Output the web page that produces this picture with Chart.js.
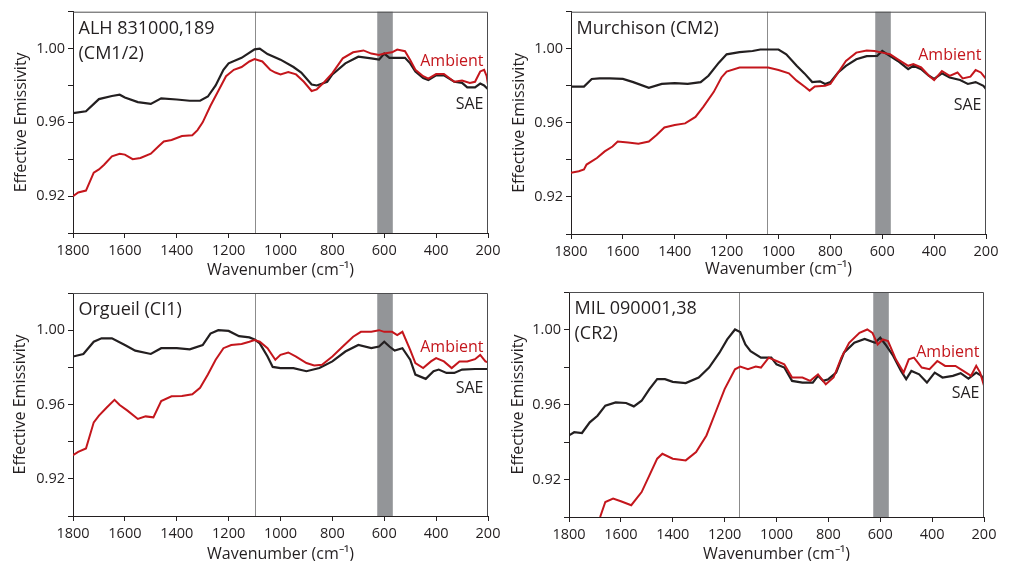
<!DOCTYPE html>
<html>
<head>
<meta charset="utf-8">
<script src="https://cdn.jsdelivr.net/npm/chart.js"></script>
<style>
  body { margin: 0; background: #fff; }
  #wrap { position: relative; width: 1013px; height: 561px; overflow: hidden; }
  canvas { position: absolute; }
</style>
</head>
<body>
<div id="wrap">
  <canvas id="c1" width="506" height="280" style="left:0;top:0"></canvas>
  <canvas id="c2" width="506" height="280" style="left:500px;top:0"></canvas>
  <canvas id="c3" width="506" height="281" style="left:0;top:280px"></canvas>
  <canvas id="c4" width="506" height="281" style="left:500px;top:280px"></canvas>
</div>
<script>
// Axis ticks
const xTicks = [1800, 1600, 1400, 1200, 1000, 800, 600, 400, 200];
const yLabelled = [0.92, 0.96, 1.00];

// Marked wavenumbers: thin line per panel, grey band shared
const refLineWn = [1100, 1045, 1100, 1145];
const bandWn = [567, 627];

const panelTitles = [['ALH 831000,189', '(CM1/2)'], ['Murchison (CM2)'], ['Orgueil (CI1)'], ['MIL 090001,38', '(CR2)']];

// ALH 831000,189
const alhSaeWn = [1800,1750,1700,1650,1620,1600,1550,1500,1460,1400,1350,1310,1280,1250,1220,1200,1150,1100,1080,1050,1000,950,920,880,860,820,800,750,700,650,620,600,580,520,500,480,450,430,400,370,330,300,280,250,230,215,200];
const alhSae = [0.965,0.966,0.9726,0.9743,0.975,0.9735,0.971,0.970,0.973,0.9724,0.9717,0.9717,0.974,0.980,0.9885,0.992,0.995,0.9996,1.000,0.997,0.994,0.990,0.987,0.9805,0.980,0.982,0.986,0.992,0.9956,0.9947,0.994,0.9973,0.995,0.995,0.992,0.9876,0.984,0.983,0.9855,0.9855,0.982,0.9814,0.979,0.979,0.981,0.980,0.978];
const alhAmbWn = [1800,1780,1750,1720,1700,1680,1650,1620,1600,1570,1540,1500,1470,1450,1420,1380,1340,1320,1300,1270,1240,1210,1180,1150,1120,1100,1070,1040,1020,1000,970,940,910,880,860,830,800,760,720,680,650,620,600,570,550,520,500,480,450,430,400,370,330,300,270,250,230,215,205,200];
const alhAmb = [0.920,0.922,0.923,0.9327,0.9345,0.937,0.9416,0.943,0.9425,0.940,0.9407,0.943,0.947,0.9496,0.9504,0.9526,0.953,0.9558,0.960,0.969,0.977,0.985,0.9885,0.990,0.993,0.9943,0.993,0.9885,0.987,0.986,0.9873,0.986,0.982,0.977,0.9779,0.982,0.9867,0.9947,0.998,0.999,0.9973,0.9965,0.9973,0.998,0.9995,0.9986,0.9938,0.9885,0.985,0.9837,0.9862,0.9862,0.982,0.9827,0.9814,0.982,0.9876,0.9885,0.985,0.9805];

// Murchison
const murSaeWn = [1800,1750,1720,1690,1650,1600,1560,1500,1450,1400,1350,1300,1270,1230,1200,1150,1100,1070,1000,970,930,900,870,840,820,800,770,740,700,660,620,600,580,540,500,480,450,420,400,370,340,300,270,240,210,200];
const murSae = [0.9796,0.9796,0.9837,0.984,0.984,0.9837,0.982,0.9789,0.981,0.9814,0.981,0.982,0.9854,0.9925,0.997,0.9982,0.9988,0.9996,0.9996,0.997,0.9908,0.9867,0.982,0.9824,0.981,0.982,0.9872,0.9908,0.9943,0.996,0.9961,0.9988,0.997,0.9934,0.989,0.9908,0.989,0.9854,0.9837,0.9867,0.9845,0.9831,0.981,0.982,0.980,0.9783];
const murAmbWn = [1800,1770,1750,1740,1700,1670,1640,1620,1580,1540,1500,1470,1440,1400,1360,1320,1290,1250,1220,1200,1150,1100,1040,1000,960,930,900,880,860,820,800,770,740,700,660,630,600,570,540,500,480,450,420,400,370,340,310,290,260,240,220,200];
const murAmb = [0.933,0.9339,0.9348,0.9375,0.941,0.9446,0.9472,0.9499,0.9494,0.9487,0.9499,0.9535,0.9575,0.9588,0.9597,0.9632,0.9686,0.9766,0.9845,0.9877,0.9899,0.9899,0.9899,0.9885,0.9867,0.9828,0.9796,0.9774,0.9796,0.980,0.981,0.9872,0.9934,0.9979,0.9991,0.9988,0.9979,0.997,0.9943,0.9908,0.9917,0.9899,0.9854,0.9831,0.988,0.9854,0.9872,0.984,0.9849,0.9885,0.9872,0.9837];

// Orgueil
const orgSaeWn = [1800,1760,1720,1690,1650,1600,1560,1500,1460,1400,1350,1300,1270,1240,1200,1160,1120,1100,1080,1050,1030,1000,950,900,850,800,750,700,650,620,600,580,560,530,500,480,440,410,390,360,330,300,250,200];
const orgSae = [0.9858,0.9872,0.9938,0.9956,0.9956,0.992,0.989,0.9872,0.9903,0.9903,0.9897,0.992,0.9982,1.000,0.9996,0.9968,0.9961,0.995,0.9929,0.9858,0.9802,0.9796,0.9796,0.9779,0.9796,0.9832,0.9885,0.992,0.9903,0.9912,0.9938,0.9912,0.989,0.9903,0.9841,0.9761,0.9738,0.9779,0.9788,0.977,0.977,0.9788,0.9791,0.9791];
const orgAmbWn = [1800,1780,1750,1720,1700,1670,1640,1620,1590,1550,1520,1490,1460,1420,1380,1340,1310,1280,1250,1220,1190,1150,1120,1100,1080,1050,1020,1000,970,940,900,870,840,800,760,720,690,650,620,600,570,550,530,500,480,450,420,400,370,340,310,280,250,230,210,200];
const orgAmb = [0.9327,0.9345,0.9363,0.9504,0.954,0.9584,0.9625,0.9597,0.9567,0.9522,0.9536,0.9531,0.9619,0.9644,0.9646,0.9655,0.969,0.9761,0.9841,0.9903,0.992,0.9926,0.9938,0.9947,0.9938,0.9903,0.9841,0.9867,0.988,0.9858,0.9823,0.981,0.9814,0.9858,0.9912,0.9965,0.9991,0.9991,1.000,0.9991,0.9991,0.9973,0.9991,0.9894,0.9823,0.9796,0.9832,0.985,0.9832,0.9796,0.9832,0.9832,0.9844,0.9867,0.9832,0.9827];

// MIL 090001,38
const milSaeWn = [1800,1780,1750,1720,1690,1660,1620,1580,1550,1520,1490,1460,1430,1400,1350,1300,1260,1220,1190,1160,1140,1120,1100,1060,1020,1000,970,940,900,860,840,820,800,770,740,700,660,620,600,580,550,520,500,480,450,420,390,360,320,290,260,230,210,200];
const milSae = [0.9435,0.9452,0.9448,0.9505,0.954,0.9594,0.9611,0.9608,0.959,0.962,0.9682,0.9735,0.9735,0.9721,0.9714,0.9744,0.9797,0.9876,0.9947,1.000,0.9986,0.992,0.9885,0.985,0.985,0.9814,0.9797,0.9726,0.9717,0.9717,0.9753,0.9726,0.9735,0.977,0.9876,0.9929,0.995,0.9929,0.9956,0.992,0.9859,0.9779,0.9735,0.9779,0.9761,0.9717,0.977,0.9744,0.9753,0.9767,0.9738,0.977,0.9753,0.9726];
const milAmbWn = [1680,1660,1630,1600,1560,1520,1490,1460,1440,1400,1350,1310,1270,1230,1200,1160,1140,1110,1080,1060,1030,1000,970,940,900,870,840,810,780,750,720,680,650,630,610,590,570,540,510,490,470,440,410,380,350,310,280,250,230,215,200];
const milAmb = [0.900,0.908,0.9098,0.9084,0.9063,0.9133,0.9222,0.9311,0.9337,0.9311,0.9302,0.9346,0.9435,0.9576,0.9682,0.9788,0.9802,0.9788,0.9802,0.9797,0.985,0.9832,0.9814,0.9744,0.9744,0.9726,0.9761,0.9708,0.9744,0.985,0.9929,0.9982,1.000,0.9982,0.992,0.9947,0.9938,0.9841,0.977,0.9841,0.985,0.9797,0.9788,0.9832,0.9806,0.9806,0.9779,0.9753,0.9806,0.977,0.970];

const RED = '#c4161c';
const BLACK = '#231f20';
const FONT = "'Open Sans', sans-serif";

// canvas layout: chart area [left, top, right, bottom], label baselines from area top
const layouts = [
  { id: 'c1', w: 506, h: 280, area: [73, 9, 488, 233], yTitle: 21.5, xTitle: 270, amb: 54, sae: 97 },
  { id: 'c2', w: 506, h: 280, area: [71, 10, 486, 234], yTitle: 19, xTitle: 269, amb: 48, sae: 98 },
  { id: 'c3', w: 506, h: 281, area: [73, 13, 488, 236], yTitle: 20.7, xTitle: 274, amb: 59, sae: 100 },
  { id: 'c4', w: 506, h: 281, area: [69, 12, 484, 237], yTitle: 18.3, xTitle: 274, amb: 65, sae: 106 }
];

const series = [
  [alhSaeWn, alhSae, alhAmbWn, alhAmb],
  [murSaeWn, murSae, murAmbWn, murAmb],
  [orgSaeWn, orgSae, orgAmbWn, orgAmb],
  [milSaeWn, milSae, milAmbWn, milAmb]
];

function points(xs, ys) {
  return xs.map((x, i) => ({ x: x, y: ys[i] }));
}

function makePanel(i) {
  const L = layouts[i];
  const [saeWn, sae, ambWn, amb] = series[i];

  const decor = {
    id: 'decor' + i,
    beforeDatasetsDraw(chart) {
      const { ctx, chartArea: a, scales: { x } } = chart;
      ctx.save();
      // grey band
      const b0 = x.getPixelForValue(bandWn[1]);
      const b1 = x.getPixelForValue(bandWn[0]);
      ctx.fillStyle = '#939598';
      ctx.fillRect(b0, a.top, b1 - b0, a.bottom - a.top);
      // thin reference line
      const lx = Math.round(x.getPixelForValue(refLineWn[i])) + 0.5;
      ctx.strokeStyle = '#8c8c8c';
      ctx.lineWidth = 1;
      ctx.beginPath();
      ctx.moveTo(lx, a.top);
      ctx.lineTo(lx, a.bottom);
      ctx.stroke();
      ctx.restore();
    },
    afterDraw(chart) {
      const { ctx, chartArea: a } = chart;
      ctx.save();
      // top and right frame
      ctx.strokeStyle = '#4d4d4f';
      ctx.lineWidth = 1;
      ctx.beginPath();
      ctx.moveTo(a.left, a.top + 0.5);
      ctx.lineTo(a.right - 0.5, a.top + 0.5);
      ctx.lineTo(a.right - 0.5, a.bottom);
      ctx.stroke();
      // panel title
      ctx.fillStyle = BLACK;
      ctx.font = '18px ' + FONT;
      ctx.textAlign = 'left';
      ctx.textBaseline = 'alphabetic';
      panelTitles[i].forEach((t, k) => ctx.fillText(t, a.left + 5.5, a.top + 22 + k * 25));
      // series labels
      ctx.font = '16px ' + FONT;
      ctx.textAlign = 'right';
      ctx.fillStyle = RED;
      ctx.fillText('Ambient', a.right - 4.5, a.top + L.amb);
      ctx.fillStyle = BLACK;
      ctx.fillText('SAE', a.right - 4.5, a.top + L.sae);
      ctx.restore();
    }
  };

  return new Chart(document.getElementById(L.id), {
    type: 'line',
    data: {
      datasets: [
        { label: 'Ambient', data: points(ambWn, amb), borderColor: RED, borderWidth: 2, pointRadius: 0, tension: 0 },
        { label: 'SAE', data: points(saeWn, sae), borderColor: BLACK, borderWidth: 2.2, pointRadius: 0, tension: 0 }
      ]
    },
    options: {
      responsive: false,
      animation: false,
      events: [],
      layout: { padding: { left: 0, top: L.area[1], right: L.w - L.area[2], bottom: 0 } },
      plugins: { legend: { display: false }, tooltip: { enabled: false } },
      scales: {
        x: {
          type: 'linear',
          reverse: true,
          min: 200,
          max: 1800,
          afterFit(s) { s.height = L.h - L.area[3]; },
          afterBuildTicks(s) { s.ticks = xTicks.map(v => ({ value: v })); },
          ticks: { autoSkip: false, maxRotation: 0, padding: 4, color: BLACK, font: { family: FONT, size: 14.5 }, callback: v => String(v) },
          grid: { drawOnChartArea: false, drawTicks: true, tickLength: 5, color: BLACK },
          border: { display: true, color: BLACK, width: 1 },
          title: { display: true, text: 'Wavenumber (cm⁻¹)', color: BLACK, font: { family: FONT, size: 16 }, padding: { top: 0, bottom: L.h - L.xTitle - 9.6 } }
        },
        y: {
          min: 0.90,
          max: 1.02,
          afterFit(s) { s.width = L.area[0]; },
          ticks: {
            stepSize: 0.02,
            autoSkip: false,
            padding: 3,
            color: BLACK,
            font: { family: FONT, size: 14.5 },
            callback: v => yLabelled.some(t => Math.abs(t - v) < 1e-6) ? v.toFixed(2) : ''
          },
          grid: { drawOnChartArea: false, drawTicks: true, tickLength: 5, color: BLACK },
          border: { display: true, color: BLACK, width: 1 },
          title: { display: true, text: 'Effective Emissivity', color: BLACK, font: { family: FONT, size: 16 }, padding: { top: L.yTitle - 9.6, bottom: 0 } }
        }
      }
    },
    plugins: [decor]
  });
}

for (let i = 0; i < 4; i++) makePanel(i);
</script>
</body>
</html>
